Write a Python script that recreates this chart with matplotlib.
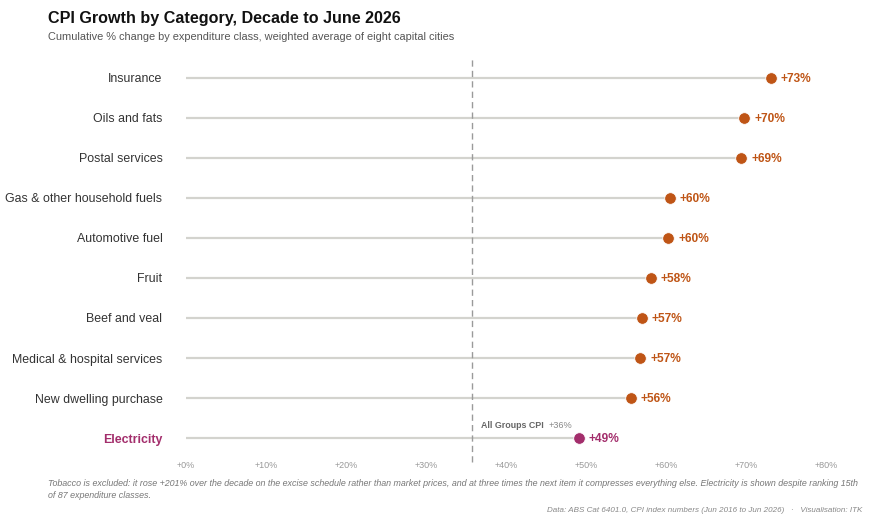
import matplotlib
matplotlib.use("Agg")
import matplotlib.pyplot as plt

categories = ["Insurance", "Oils and fats", "Postal services", "Gas & other household fuels",
              "Automotive fuel", "Fruit", "Beef and veal", "Medical & hospital services",
              "New dwelling purchase", "Electricity"]
values = [73.1, 69.8, 69.4, 60.45, 60.3, 58.1, 57.0, 56.8, 55.6, 49.1]
all_groups_cpi = 35.8
xticks = [0, 10, 20, 30, 40, 50, 60, 70, 80]
highlight = "Electricity"

ORANGE = "#BF5516"
MAGENTA = "#A32E6C"
LINE = "#D3D3CE"
FONT = "Liberation Sans"

W, H = 879, 525
fig = plt.figure(figsize=(W/100, H/100), dpi=100)
plt.rcParams['font.family'] = [FONT, 'DejaVu Sans']

left, right, top, bottom = 186, 826, 58, 458
ax = fig.add_axes([left/W, 1-bottom/H, (right-left)/W, (bottom-top)/H])
ax.set_xlim(0, 80)
n = len(categories)
ax.set_ylim(-0.5, n-0.5)
for s in ax.spines.values():
    s.set_visible(False)

ys = [n-1-i for i in range(n)]
for cat, v, y in zip(categories, values, ys):
    col = MAGENTA if cat == highlight else ORANGE
    ax.plot([0, v], [y, y], color=LINE, lw=1.6, zorder=1, solid_capstyle='butt')
    ax.scatter([v], [y], s=70, color=col, zorder=3, edgecolors='white', linewidths=0.6, clip_on=False)
    ax.annotate(f"+{v:.0f}%", (v, y), xytext=(7.2, 0), textcoords='offset points',
                ha='left', va='center_baseline', fontsize=8.6, fontweight='bold', color=col, fontfamily=FONT)

ax.axvline(all_groups_cpi, color='#9a9a9a', lw=1.0, ls=(0, (4.5, 3)), zorder=2, ymin=-0.01, ymax=1.0, clip_on=False)
ax.annotate("All Groups CPI", (all_groups_cpi, 0), xytext=(6, 10), textcoords='offset points',
            ha='left', va='center_baseline', fontsize=6.4, fontweight='bold', color='#666666', fontfamily=FONT)
ax.annotate(f"+{all_groups_cpi:.0f}%", (all_groups_cpi, 0), xytext=(55, 10), textcoords='offset points',
            ha='left', va='center_baseline', fontsize=6.6, color='#888888', fontfamily=FONT)

ax.set_yticks(ys)
ax.set_yticklabels(categories)
for lab in ax.get_yticklabels():
    if lab.get_text() == highlight:
        lab.set_color(MAGENTA)
        lab.set_fontweight('bold')
    else:
        lab.set_color('#333333')
    lab.set_fontsize(8.9)
ax.tick_params(axis='y', length=0, pad=17)
ax.set_xticks(xticks)
ax.set_xticklabels([f"+{t}%" for t in xticks], fontsize=6.5, color='#999999')
ax.tick_params(axis='x', length=0, pad=2.5)

fig.text(48/W, 1-18/H, "CPI Growth by Category, Decade to June 2026", fontsize=11.6,
         fontweight='bold', color='#111111', va='center', ha='left')
fig.text(48/W, 1-37/H, "Cumulative % change by expenditure class, weighted average of eight capital cities",
         fontsize=7.95, color='#555555', va='center', ha='left')
fig.text(48/W, 1-483/H, "Tobacco is excluded: it rose +201% over the decade on the excise schedule rather than market prices, and at three times the next item it compresses everything else. Electricity is shown despite ranking 15th",
         fontsize=6.38, style='italic', color='#777777', va='center', ha='left')
fig.text(48/W, 1-495/H, "of 87 expenditure classes.",
         fontsize=6.38, style='italic', color='#777777', va='center', ha='left')
fig.text(862/W, 1-510/H, "Data: ABS Cat 6401.0, CPI index numbers (Jun 2016 to Jun 2026)   ·   Visualisation: ITK",
         fontsize=5.8, style='italic', color='#888888', va='center', ha='right')

fig.savefig("out.png", dpi=100)
